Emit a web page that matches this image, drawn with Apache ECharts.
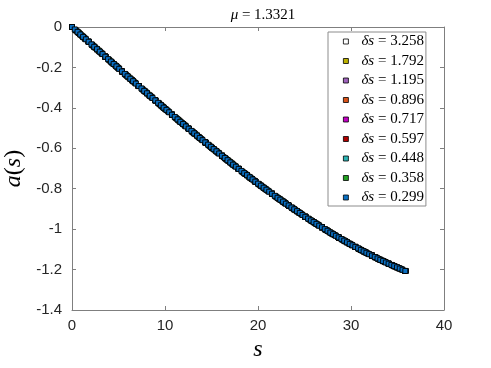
<!DOCTYPE html>
<html>
<head>
<meta charset="utf-8">
<script src="https://cdn.jsdelivr.net/npm/echarts@6/dist/echarts.min.js"></script>
<style>
  html, body { margin: 0; padding: 0; background: #fff; }
  #chart { width: 491px; height: 368px; }
</style>
</head>
<body>
<div id="chart"></div>
<script>
// step sizes shown in the legend
var dsLabels = ['3.258', '1.792', '1.195', '0.896', '0.717', '0.597', '0.448', '0.358', '0.299'];
var dsSteps = [3.2582, 1.792, 1.1947, 0.896, 0.7168, 0.5973, 0.448, 0.3584, 0.29867];
var colors = ['#ffffff', '#bdb200', '#a063bd', '#d95319', '#c400c4', '#b00000', '#2bb3b3', '#22a022', '#0a6fc2'];

// a(s), one array per step size (first point at s = 0)
var a_3258 = [0, -0.133, -0.266, -0.395, -0.522, -0.643, -0.759, -0.867, -0.968, -1.059, -1.139, -1.207];
var a_1792 = [0, -0.073, -0.147, -0.220, -0.292, -0.363, -0.434, -0.503, -0.571, -0.637, -0.702,
  -0.765, -0.825, -0.883, -0.939, -0.991, -1.041, -1.088, -1.131, -1.171, -1.207];
var a_1195 = [0, -0.049, -0.098, -0.147, -0.195, -0.244, -0.292, -0.340, -0.387, -0.434, -0.480,
  -0.526, -0.571, -0.615, -0.659, -0.702, -0.744, -0.785, -0.825, -0.864, -0.902,
  -0.939, -0.974, -1.008, -1.041, -1.073, -1.103, -1.131, -1.158, -1.183, -1.207];
var a_0896 = [0, -0.037, -0.073, -0.110, -0.147, -0.183, -0.220, -0.256, -0.292, -0.328, -0.363,
  -0.399, -0.434, -0.469, -0.503, -0.537, -0.571, -0.604, -0.637, -0.670, -0.702,
  -0.733, -0.765, -0.795, -0.825, -0.854, -0.883, -0.911, -0.939, -0.965, -0.991,
  -1.017, -1.041, -1.065, -1.088, -1.110, -1.131, -1.152, -1.171, -1.189, -1.207];
var a_0717 = [0, -0.029, -0.059, -0.088, -0.117, -0.147, -0.176, -0.205, -0.234, -0.263, -0.292,
  -0.320, -0.349, -0.377, -0.406, -0.434, -0.462, -0.489, -0.517, -0.544, -0.571,
  -0.598, -0.624, -0.650, -0.676, -0.702, -0.727, -0.752, -0.777, -0.801, -0.825,
  -0.849, -0.872, -0.894, -0.917, -0.939, -0.960, -0.981, -1.002, -1.022, -1.041,
  -1.060, -1.079, -1.097, -1.114, -1.131, -1.148, -1.163, -1.178, -1.193, -1.207];
var a_0597 = [0, -0.024, -0.049, -0.073, -0.098, -0.122, -0.147, -0.171, -0.195, -0.220, -0.244,
  -0.268, -0.292, -0.316, -0.340, -0.363, -0.387, -0.410, -0.434, -0.457, -0.480,
  -0.503, -0.526, -0.549, -0.571, -0.593, -0.615, -0.637, -0.659, -0.681, -0.702,
  -0.723, -0.744, -0.765, -0.785, -0.805, -0.825, -0.845, -0.864, -0.883, -0.902,
  -0.920, -0.939, -0.957, -0.974, -0.991, -1.008, -1.025, -1.041, -1.057, -1.073,
  -1.088, -1.103, -1.117, -1.131, -1.145, -1.158, -1.171, -1.183, -1.195, -1.207];
var a_0448 = [0, -0.018, -0.037, -0.055, -0.073, -0.092, -0.110, -0.128, -0.147, -0.165, -0.183,
  -0.201, -0.220, -0.238, -0.256, -0.274, -0.292, -0.310, -0.328, -0.345, -0.363,
  -0.381, -0.399, -0.416, -0.434, -0.451, -0.469, -0.486, -0.503, -0.520, -0.537,
  -0.554, -0.571, -0.588, -0.604, -0.621, -0.637, -0.654, -0.670, -0.686, -0.702,
  -0.718, -0.733, -0.749, -0.765, -0.780, -0.795, -0.810, -0.825, -0.840, -0.854,
  -0.869, -0.883, -0.897, -0.911, -0.925, -0.939, -0.952, -0.965, -0.978, -0.991,
  -1.004, -1.017, -1.029, -1.041, -1.053, -1.065, -1.076, -1.088, -1.099, -1.110,
  -1.121, -1.131, -1.141, -1.152, -1.161, -1.171, -1.180, -1.189, -1.198, -1.207];
var a_0358 = [0, -0.015, -0.029, -0.044, -0.059, -0.073, -0.088, -0.103, -0.117, -0.132, -0.147,
  -0.161, -0.176, -0.190, -0.205, -0.220, -0.234, -0.249, -0.263, -0.277, -0.292,
  -0.306, -0.320, -0.335, -0.349, -0.363, -0.377, -0.392, -0.406, -0.420, -0.434,
  -0.448, -0.462, -0.475, -0.489, -0.503, -0.517, -0.530, -0.544, -0.558, -0.571,
  -0.584, -0.598, -0.611, -0.624, -0.637, -0.650, -0.663, -0.676, -0.689, -0.702,
  -0.715, -0.727, -0.740, -0.752, -0.765, -0.777, -0.789, -0.801, -0.813, -0.825,
  -0.837, -0.849, -0.860, -0.872, -0.883, -0.894, -0.906, -0.917, -0.928, -0.939,
  -0.949, -0.960, -0.971, -0.981, -0.991, -1.002, -1.012, -1.022, -1.031, -1.041,
  -1.051, -1.060, -1.070, -1.079, -1.088, -1.097, -1.106, -1.114, -1.123, -1.131,
  -1.139, -1.148, -1.155, -1.163, -1.171, -1.178, -1.186, -1.193, -1.200, -1.207];
var a_0299 = [0, -0.012, -0.024, -0.037, -0.049, -0.061, -0.073, -0.086, -0.098, -0.110,
  -0.122, -0.134, -0.147, -0.159, -0.171, -0.183, -0.195, -0.207, -0.220, -0.232,
  -0.244, -0.256, -0.268, -0.280, -0.292, -0.304, -0.316, -0.328, -0.340, -0.351,
  -0.363, -0.375, -0.387, -0.399, -0.410, -0.422, -0.434, -0.445, -0.457, -0.469,
  -0.480, -0.492, -0.503, -0.514, -0.526, -0.537, -0.549, -0.560, -0.571, -0.582,
  -0.593, -0.604, -0.615, -0.626, -0.637, -0.648, -0.659, -0.670, -0.681, -0.691,
  -0.702, -0.712, -0.723, -0.733, -0.744, -0.754, -0.765, -0.775, -0.785, -0.795,
  -0.805, -0.815, -0.825, -0.835, -0.845, -0.854, -0.864, -0.874, -0.883, -0.893,
  -0.902, -0.911, -0.920, -0.930, -0.939, -0.948, -0.957, -0.965, -0.974, -0.983,
  -0.991, -1.000, -1.008, -1.017, -1.025, -1.033, -1.041, -1.049, -1.057, -1.065,
  -1.073, -1.080, -1.088, -1.095, -1.103, -1.110, -1.117, -1.124, -1.131, -1.138,
  -1.145, -1.152, -1.158, -1.165, -1.171, -1.177, -1.183, -1.189, -1.195, -1.201,
  -1.207];

var aValues = [a_3258, a_1792, a_1195, a_0896, a_0717, a_0597, a_0448, a_0358, a_0299];

var xTicks = { min: 0, max: 40, interval: 10 };
var yTicks = { min: -1.4, max: 0, interval: 0.2 };

var axisGray = '#7f7f7f';
var labelGray = '#262626';

var myChart = echarts.init(document.getElementById('chart'));

var series = dsLabels.map(function (label, k) {
  return {
    name: label,
    type: 'scatter',
    symbol: 'rect',
    symbolSize: 5,
    itemStyle: {
      color: colors[k],
      borderColor: '#000',
      borderWidth: 0.9,
      opacity: 1
    },
    emphasis: { disabled: true },
    data: aValues[k].map(function (a, i) {
      return [i * dsSteps[k], a];
    })
  };
});

function mirrorAxis(base, pos) {
  return Object.assign({}, base, {
    position: pos,
    name: '',
    axisLabel: { show: false },
    axisTick: { inside: true, length: 4, lineStyle: { color: axisGray } },
    axisLine: { show: true, onZero: false, lineStyle: { color: axisGray, width: 1 } },
    splitLine: { show: false }
  });
}

var xBase = {
  type: 'value',
  min: xTicks.min,
  max: xTicks.max,
  interval: xTicks.interval,
  position: 'bottom',
  name: '{i|s}',
  nameLocation: 'middle',
  nameGap: 26,
  nameTextStyle: {
    rich: { i: { fontFamily: 'Liberation Serif', fontStyle: 'italic', fontSize: 24, color: '#000' } }
  },
  axisLine: { show: true, onZero: false, lineStyle: { color: axisGray, width: 1 } },
  axisTick: { inside: true, length: 4, lineStyle: { color: axisGray } },
  axisLabel: { color: labelGray, fontSize: 15, fontFamily: 'Liberation Sans', margin: 8 },
  splitLine: { show: false }
};

var yBase = {
  type: 'value',
  min: yTicks.min,
  max: yTicks.max,
  interval: yTicks.interval,
  position: 'left',
  name: '{i|a}{n|(}{i|s}{n|)}',
  nameLocation: 'middle',
  nameRotate: 90,
  nameGap: 33,
  nameTextStyle: {
    rich: {
      i: { fontFamily: 'Liberation Serif', fontStyle: 'italic', fontSize: 24, color: '#000' },
      n: { fontFamily: 'Liberation Serif', fontSize: 24, color: '#000' }
    }
  },
  axisLine: { show: true, onZero: false, lineStyle: { color: axisGray, width: 1 } },
  axisTick: { inside: true, length: 4, lineStyle: { color: axisGray } },
  axisLabel: {
    color: labelGray, fontSize: 15, fontFamily: 'Liberation Sans', margin: 10,
    formatter: function (v) { return String(Math.round(v * 10) / 10); }
  },
  splitLine: { show: false }
};

var option = {
  animation: false,
  backgroundColor: '#fff',
  title: {
    text: '{i|μ} = 1.3321',
    left: 258,
    top: 3,
    textAlign: 'center',
    textStyle: {
      fontFamily: 'Liberation Serif',
      fontWeight: 'normal',
      fontSize: 15,
      color: '#000',
      rich: { i: { fontFamily: 'Liberation Serif', fontStyle: 'italic', fontSize: 15, color: '#000' } }
    }
  },
  grid: { left: 72, right: 47, top: 27, bottom: 58, containLabel: false, outerBoundsMode: 'none' },
  legend: {
    orient: 'vertical',
    left: 328,
    top: 32,
    padding: [2, 2, 1, 15],
    itemGap: 4.5,
    itemWidth: 5,
    itemHeight: 5,
    icon: 'rect',
    borderColor: '#8c8c8c',
    borderWidth: 1,
    backgroundColor: '#fff',
    itemStyle: { borderColor: '#000', borderWidth: 0.8 },
    formatter: function (name) { return '{sp|}{i|δs} = ' + name; },
    textStyle: {
      fontFamily: 'Liberation Serif',
      fontSize: 15,
      lineHeight: 12,
      color: '#000',
      rich: {
        sp: { width: 8, lineHeight: 12 },
        i: { fontFamily: 'Liberation Serif', fontStyle: 'italic', fontSize: 15, lineHeight: 12, color: '#000' }
      }
    },
    data: dsLabels
  },
  xAxis: [xBase, mirrorAxis(xBase, 'top')],
  yAxis: [yBase, mirrorAxis(yBase, 'right')],
  series: series
};

myChart.setOption(option);
</script>
</body>
</html>
